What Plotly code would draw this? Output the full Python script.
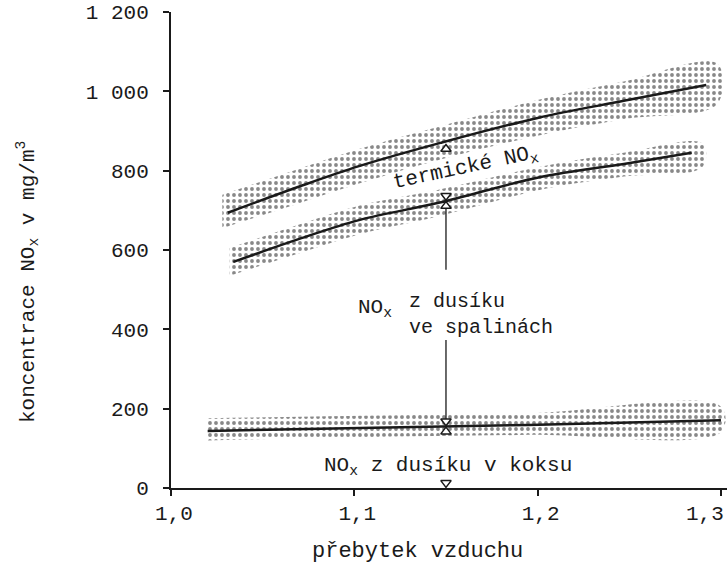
import numpy as np
import plotly.graph_objects as go

# ---- data ----
# upper curve: total NOx
total_x = [1.031, 1.07, 1.103, 1.147, 1.20, 1.247, 1.292]
total_y = [694, 760, 812, 870, 933, 976, 1016]
total_band_x = [1.028, 1.07, 1.103, 1.147, 1.20, 1.247, 1.298]
total_band_hi = [739, 805, 855, 912, 978, 1025, 1070]
total_band_lo = [655, 718, 768, 828, 888, 930, 968]

# middle curve: NOx from flue-gas nitrogen
flue_x = [1.034, 1.07, 1.103, 1.146, 1.2016, 1.247, 1.284]
flue_y = [570, 628, 676, 719, 784, 817, 845]
flue_band_x = [1.032, 1.07, 1.103, 1.146, 1.2016, 1.247, 1.29]
flue_band_hi = [605, 664, 712, 752, 810, 845, 868]
flue_band_lo = [535, 592, 640, 685, 752, 785, 810]

# lower curve: NOx from coke nitrogen
coke_x = [1.02, 1.103, 1.195, 1.30]
coke_y = [144, 151, 159, 171]
coke_band_x = [1.02, 1.103, 1.195, 1.30]
coke_band_hi = [176, 182, 188, 205]
coke_band_lo = [120, 128, 134, 141]

arrow_x = 1.15
flue_arrow_tail = 550
coke_arrow_tail = 373

x_tickvals = [1.0, 1.1, 1.2]
x_ticktext = ["1,0", "1,1", "1,2"]
x_last_tickval = 1.3
x_last_ticktext = "1,3"
y_tickvals = [0, 200, 400, 600, 800, 1000, 1200]
y_ticktext = ["0", "200", "400", "600", "800", "1 000", "1 200"]

FONT = "Liberation Mono"
INK = "#1a1a1a"

fig = go.Figure()

def band(xs, hi, lo):
    fig.add_trace(go.Scatter(
        x=list(xs) + list(xs)[::-1],
        y=list(hi) + list(lo)[::-1],
        mode="lines", line=dict(width=0, shape="spline"),
        fill="toself", fillcolor="rgba(255,255,255,0)",
        fillpattern=dict(shape=".", fgcolor="#111111", bgcolor="rgba(255,255,255,0)",
                         size=6, solidity=0.32),
        hoverinfo="skip", showlegend=False))

def curve(xs, ys):
    fig.add_trace(go.Scatter(x=xs, y=ys, mode="lines",
                             line=dict(color=INK, width=2.5, shape="spline"),
                             hoverinfo="skip", showlegend=False))

band(total_band_x, total_band_hi, total_band_lo)
band(flue_band_x, flue_band_hi, flue_band_lo)
band(coke_band_x, coke_band_hi, coke_band_lo)
curve(total_x, total_y)
curve(flue_x, flue_y)
curve(coke_x, coke_y)

# values at the arrow position
t_at = float(np.interp(arrow_x, total_x, total_y))
f_at = float(np.interp(arrow_x, flue_x, flue_y))
c_at = float(np.interp(arrow_x, coke_x, coke_y))
off = 13  # half arrowhead height in data units

# arrow shafts
for y0, y1 in [(f_at - off, flue_arrow_tail), (coke_arrow_tail, c_at + off)]:
    fig.add_trace(go.Scatter(x=[arrow_x, arrow_x], y=[y0, y1], mode="lines",
                             line=dict(color=INK, width=1.3),
                             hoverinfo="skip", showlegend=False))
# arrowheads
up_y = [t_at - off - 6, f_at - off, c_at - off]
down_y = [f_at + off, c_at + off, 0 + off]
fig.add_trace(go.Scatter(x=[arrow_x] * len(up_y), y=up_y, mode="markers",
                         marker=dict(symbol="triangle-up", size=9, color="white",
                                     line=dict(color=INK, width=1.5)),
                         hoverinfo="skip", showlegend=False))
fig.add_trace(go.Scatter(x=[arrow_x] * len(down_y), y=down_y, mode="markers",
                         marker=dict(symbol="triangle-down", size=9, color="white",
                                     line=dict(color=INK, width=1.5)),
                         hoverinfo="skip", showlegend=False))

tf = dict(family=FONT, size=21, color=INK)
ann = []
ann.append(dict(x=1.161, y=805, xref="x", yref="y", text="termické NO<sub>x</sub>",
                showarrow=False, textangle=-12, font=tf))
ann.append(dict(x=1.1215, y=452, xref="x", yref="y", text="NO<sub>x</sub>",
                showarrow=False, xanchor="right", yanchor="middle", font=tf))
ann.append(dict(x=1.1285, y=437, xref="x", yref="y", text="z dusíku<br>ve spalinách",
                showarrow=False, xanchor="left", yanchor="middle", align="left",
                font=dict(family=FONT, size=20, color=INK)))
ann.append(dict(x=1.151, y=54, xref="x", yref="y", text="NO<sub>x</sub> z dusíku v koksu",
                showarrow=False, xanchor="center", yanchor="middle", font=tf))
# last x tick label (kept inside the page like in the reference)
ann.append(dict(x=x_last_tickval, y=-0.0567, xref="x", yref="paper", text=x_last_ticktext,
                showarrow=False, xanchor="center", yanchor="middle", xshift=-16,
                font=tf))
# axis titles
ann.append(dict(x=-0.257, y=0.433, xref="paper", yref="paper",
                text="koncentrace NO<sub>x</sub> v mg/m<sup>3</sup>", textangle=-90,
                showarrow=False, xanchor="center", yanchor="middle",
                font=dict(family=FONT, size=21, color=INK)))
ann.append(dict(x=0.444, y=-0.134, xref="paper", yref="paper", text="přebytek vzduchu",
                showarrow=False, xanchor="center", yanchor="middle",
                font=dict(family=FONT, size=22, color=INK)))

axis_common = dict(ticks="outside", ticklen=6, tickwidth=1.5, tickcolor=INK,
                   showgrid=False, zeroline=False, automargin=False,
                   tickfont=dict(family=FONT, size=21, color=INK))

fig.update_layout(
    width=727, height=570,
    margin=dict(l=171, r=0, t=12, b=82, pad=0),
    paper_bgcolor="white", plot_bgcolor="white",
    annotations=ann, showlegend=False,
    xaxis=dict(range=[1.0, 1.3033], tickvals=x_tickvals, ticktext=x_ticktext,
               showline=True, linecolor=INK, linewidth=2,
               ticklabelshift=3, ticklabelstandoff=-1,
               minor=dict(tickvals=[x_last_tickval], ticks="outside", ticklen=6,
                          tickwidth=1.5, tickcolor=INK, showgrid=False),
               **axis_common),
    yaxis=dict(range=[0, 1200], tickvals=y_tickvals, ticktext=y_ticktext,
               showline=True, linecolor=INK, linewidth=2,
               ticklabelstandoff=10, **axis_common),
)

fig.write_html("out.html",
               config={"displayModeBar": False},
               post_script="document.body.style.margin='0';"
                           "document.body.style.overflow='hidden';")
